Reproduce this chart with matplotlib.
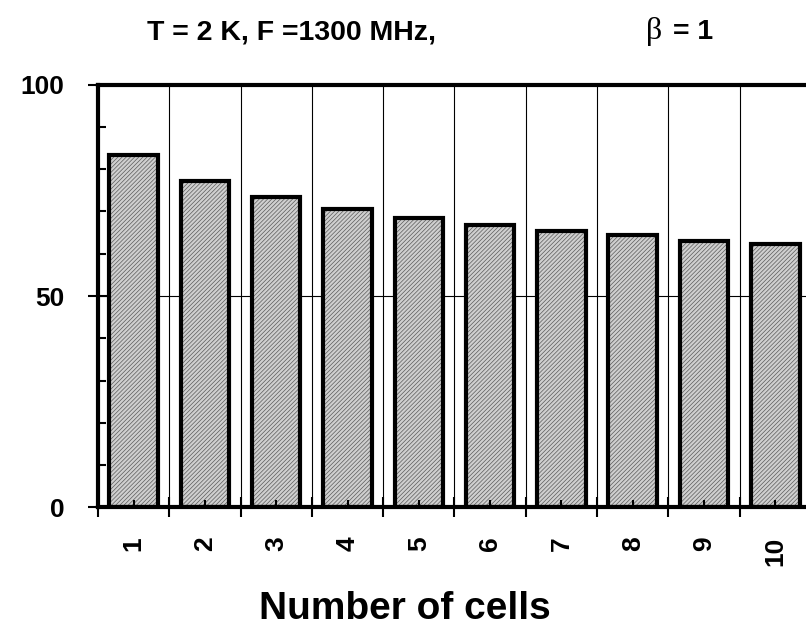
import numpy as np
import matplotlib
matplotlib.use('Agg')
import matplotlib.pyplot as plt

# values
cells = np.arange(1, 11)
cell_labels = ['1', '2', '3', '4', '5', '6', '7', '8', '9', '10']
values = [83.3, 77.2, 73.4, 70.6, 68.4, 66.8, 65.4, 64.4, 63.0, 62.3]
yticks_major = [0, 50, 100]
ytick_labels = ['0', '50', '100']
yticks_minor = [10, 20, 30, 40, 60, 70, 80, 90]

plt.rcParams['font.family'] = ['Liberation Sans', 'DejaVu Sans']
plt.rcParams['font.weight'] = 'bold'
plt.rcParams['hatch.linewidth'] = 0.5

fig = plt.figure(figsize=(8.06, 6.26), dpi=100)
ax = fig.add_axes([0.1216, 0.1893, 0.8845, 0.6757])

bounds = np.append(cells - 0.5, cells[-1] + 0.5)

# grid behind the bars
for b in bounds[1:-1]:
    ax.axvline(b, color='black', lw=0.8, zorder=0.3)
ax.axhline(50, color='black', lw=0.8, zorder=0.3)

# textured fill, then the thick outline
ax.bar(cells, values, width=0.68, color='#cfcfcf', edgecolor='#5a5a5a',
       hatch='////////', lw=0, zorder=1)
ax.bar(cells, values, width=0.68, fill=False, edgecolor='black', lw=3.0, zorder=1.1)

ax.set_xlim(0.5, 10.5)
ax.set_ylim(0, 100)

for s in ['left', 'top', 'bottom']:
    ax.spines[s].set_linewidth(3.0)
ax.spines['right'].set_visible(False)

ax.set_xticks(bounds)
ax.set_xticklabels([])
ax.set_xticks(cells, minor=True)
ax.set_xticklabels(cell_labels, minor=True, rotation=90, va='top',
                   fontsize=19, fontweight='bold')
ax.tick_params(axis='x', which='major', direction='inout', length=14, width=1.5)
ax.tick_params(axis='x', which='minor', direction='in', length=5, width=1.5, pad=21)

ax.set_yticks(yticks_major)
ax.set_yticklabels(ytick_labels, fontsize=19, fontweight='bold')
ax.set_yticks(yticks_minor, minor=True)
ax.tick_params(axis='y', which='major', direction='inout', length=14, width=1.5, pad=17)
ax.tick_params(axis='y', which='minor', direction='in', length=6, width=1.5)

fig.text(147 / 806, 1 - 39 / 626, 'T = 2 K, F =1300 MHz,', fontsize=20.5,
         fontweight='bold', ha='left', va='baseline')
fig.text(646 / 806, 1 - 39 / 626, 'β', fontsize=23, family='Liberation Serif',
         fontweight='normal', ha='left', va='baseline')
fig.text(673 / 806, 1 - 39 / 626, '= 1', fontsize=20.5,
         fontweight='bold', ha='left', va='baseline')

fig.text(405 / 806, 1 - 619 / 626, 'Number of cells', fontsize=28,
         fontweight='bold', ha='center', va='baseline')

fig.savefig('out.png', dpi=100)
